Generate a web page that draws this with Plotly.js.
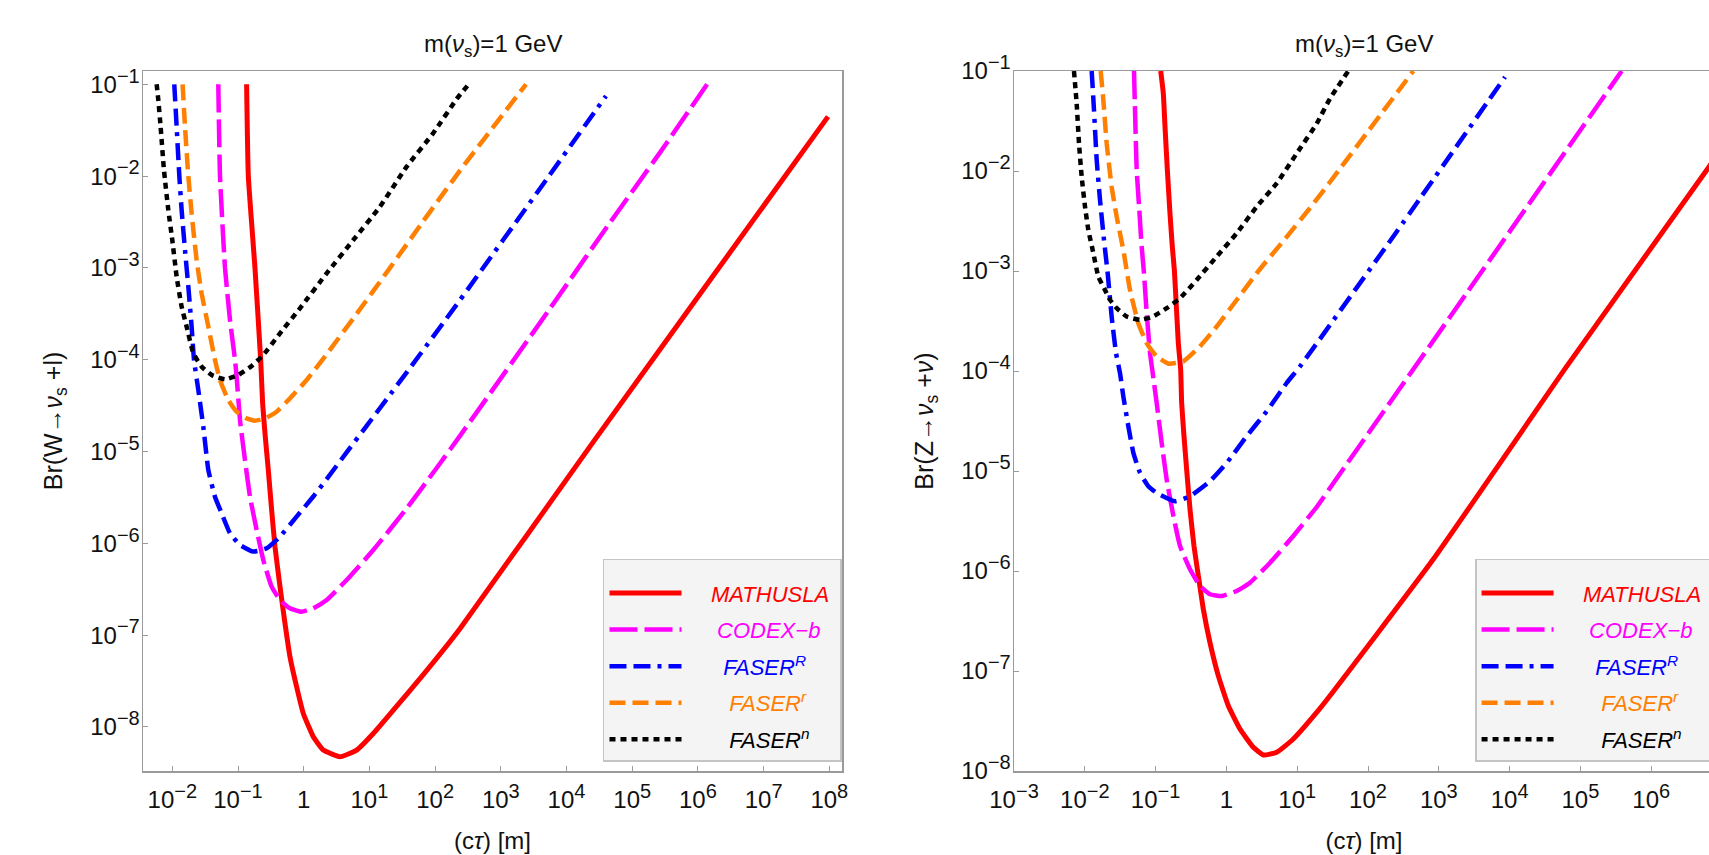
<!DOCTYPE html>
<html>
<head>
<meta charset="utf-8">
<script src="https://cdn.plot.ly/plotly-3.0.1.min.js"></script>
<style>
  html, body { margin: 0; padding: 0; overflow: hidden; background: #fff; }
  #wrap { width: 1709px; height: 855px; overflow: hidden; }
  #plot { width: 1716px; height: 855px; }
</style>
</head>
<body>
<div id="wrap"><div id="plot"></div></div>
<script>
// ---------------- DATA (stored as log10 of the value) ----------------
// Left panel: Br(W -> nu_s + l) vs c*tau [m]
const W_MATHUSLA_x = [-0.869, -0.843, -0.742, -0.655, -0.625, -0.585, -0.539, -0.488, -0.437, -0.361, -0.285, -0.209, -0.108, -0.006, 0.146, 0.298, 0.552, 0.806, 1.059, 1.364, 1.820, 2.378, 4.402, 6.243, 7.980];
const W_MATHUSLA_y = [-1.000, -2.000, -3.000, -4.000, -4.475, -4.838, -5.200, -5.637, -6.037, -6.472, -6.872, -7.235, -7.562, -7.853, -8.107, -8.252, -8.325, -8.252, -8.071, -7.817, -7.430, -6.930, -4.900, -3.075, -1.352];

const W_CODEXB_x = [-1.300, -1.274, -1.198, -1.122, -1.046, -1.021, -0.970, -0.894, -0.818, -0.716, -0.615, -0.488, -0.361, -0.209, -0.031, 0.146, 0.349, 0.653, 1.059, 1.567, 2.074, 2.378, 3.732, 4.569, 5.406, 6.140];
const W_CODEXB_y = [-1.000, -2.000, -3.000, -3.567, -4.000, -4.185, -4.657, -5.093, -5.492, -5.855, -6.182, -6.472, -6.618, -6.708, -6.745, -6.708, -6.618, -6.400, -6.073, -5.620, -5.130, -4.830, -3.460, -2.600, -1.760, -1.000];

const W_FASERR_x = [-1.970, -1.934, -1.893, -1.858, -1.807, -1.756, -1.706, -1.670, -1.604, -1.528, -1.452, -1.351, -1.249, -1.122, -0.970, -0.767, -0.564, -0.361, -0.108, 0.146, 0.349, 0.653, 0.958, 1.262, 1.617, 2.328, 3.732, 4.601];
const W_FASERR_y = [-1.000, -1.461, -2.000, -2.369, -2.805, -3.204, -3.640, -4.000, -4.330, -4.730, -5.200, -5.492, -5.673, -5.891, -6.018, -6.090, -6.054, -5.927, -5.709, -5.490, -5.300, -5.010, -4.720, -4.430, -4.090, -3.400, -2.000, -1.127];

const W_FASERr_x = [-1.843, -1.807, -1.756, -1.706, -1.630, -1.554, -1.452, -1.351, -1.274, -1.148, -1.021, -0.869, -0.742, -0.589, -0.412, -0.209, 0.045, 0.349, 0.806, 1.313, 1.820, 2.378, 3.384];
const W_FASERr_y = [-1.000, -1.461, -2.000, -2.405, -2.914, -3.277, -3.640, -4.000, -4.221, -4.440, -4.566, -4.639, -4.664, -4.639, -4.566, -4.421, -4.221, -3.940, -3.500, -3.000, -2.490, -1.940, -1.000];

const W_FASERn_x = [-2.238, -2.213, -2.178, -2.127, -2.061, -2.000, -1.934, -1.858, -1.782, -1.680, -1.553, -1.401, -1.198, -0.995, -0.792, -0.615, -0.361, -0.057, 0.349, 0.755, 1.161, 1.567, 1.973, 2.328, 2.511];
const W_FASERn_y = [-1.000, -1.170, -1.461, -1.933, -2.369, -2.696, -3.095, -3.422, -3.640, -3.930, -4.076, -4.166, -4.214, -4.166, -4.068, -3.948, -3.712, -3.440, -3.059, -2.696, -2.333, -1.897, -1.530, -1.160, -1.000];

// Right panel: Br(Z -> nu_s + nu) vs c*tau [m]
const Z_MATHUSLA_x = [-0.928, -0.891, -0.867, -0.834, -0.797, -0.764, -0.735, -0.712, -0.679, -0.646, -0.632, -0.599, -0.561, -0.514, -0.458, -0.396, -0.326, -0.232, -0.114, 0.027, 0.192, 0.380, 0.522, 0.710, 0.945, 1.275, 1.463, 2.922, 4.806, 6.850];
const Z_MATHUSLA_y = [-1.000, -1.226, -1.559, -1.991, -2.424, -2.757, -2.993, -3.289, -3.721, -3.987, -4.320, -4.652, -4.990, -5.384, -5.750, -6.050, -6.383, -6.716, -7.049, -7.347, -7.580, -7.763, -7.840, -7.813, -7.680, -7.414, -7.247, -5.883, -3.954, -1.925];

const Z_CODEXB_x = [-1.305, -1.291, -1.267, -1.230, -1.197, -1.164, -1.126, -1.079, -1.041, -0.985, -0.914, -0.844, -0.749, -0.655, -0.514, -0.373, -0.232, -0.067, 0.145, 0.333, 0.616, 0.945, 1.275, 1.463, 3.393, 5.583];
const Z_CODEXB_y = [-1.000, -1.393, -1.991, -2.391, -2.757, -3.023, -3.422, -3.821, -4.021, -4.320, -4.720, -5.085, -5.450, -5.750, -5.983, -6.150, -6.233, -6.250, -6.200, -6.117, -5.917, -5.650, -5.360, -5.170, -3.222, -1.000];

const Z_FASERR_x = [-1.903, -1.870, -1.832, -1.785, -1.729, -1.677, -1.621, -1.559, -1.503, -1.456, -1.385, -1.314, -1.220, -1.103, -0.985, -0.726, -0.514, -0.232, 0.004, 0.286, 0.569, 0.851, 1.040, 2.405, 3.935];
const Z_FASERR_y = [-1.000, -1.393, -1.892, -2.291, -2.690, -3.023, -3.455, -3.821, -4.021, -4.254, -4.553, -4.819, -5.019, -5.152, -5.219, -5.302, -5.252, -5.102, -4.919, -4.652, -4.403, -4.120, -3.954, -2.607, -1.060];

const Z_FASERr_x = [-1.776, -1.738, -1.691, -1.621, -1.550, -1.456, -1.362, -1.244, -1.126, -0.985, -0.820, -0.608, -0.373, -0.137, 0.145, 0.475, 0.804, 1.181, 1.463, 2.640];
const Z_FASERr_y = [-1.000, -1.293, -1.725, -2.158, -2.457, -2.790, -3.189, -3.522, -3.721, -3.854, -3.927, -3.904, -3.754, -3.555, -3.290, -2.980, -2.700, -2.370, -2.110, -1.000];

const Z_FASERn_x = [-2.153, -2.115, -2.082, -2.044, -1.997, -1.950, -1.879, -1.809, -1.715, -1.644, -1.550, -1.409, -1.220, -1.056, -0.844, -0.655, -0.420, -0.137, 0.145, 0.428, 0.710, 0.992, 1.275, 1.463, 1.722];
const Z_FASERn_y = [-1.000, -1.326, -1.725, -2.058, -2.357, -2.590, -2.823, -3.056, -3.189, -3.289, -3.372, -3.455, -3.488, -3.462, -3.372, -3.272, -3.089, -2.856, -2.623, -2.357, -2.124, -1.825, -1.526, -1.276, -1.000];

// Series names (legend labels)
const seriesNames = ['MATHUSLA', 'CODEX\u2212b', 'FASER<sup>R</sup>', 'FASER<sup>r</sup>', 'FASER<sup>n</sup>'];

// Tick labels
const xTickValsW = [1e-2, 1e-1, 1, 1e1, 1e2, 1e3, 1e4, 1e5, 1e6, 1e7, 1e8];
const xTickExpW  = ['\u22122', '\u22121', '', '1', '2', '3', '4', '5', '6', '7', '8'];
const xTickValsZ = [1e-3, 1e-2, 1e-1, 1, 1e1, 1e2, 1e3, 1e4, 1e5, 1e6, 1e7];
const xTickExpZ  = ['\u22123', '\u22122', '\u22121', '', '1', '2', '3', '4', '5', '6', '7'];
const yTickVals  = [1e-8, 1e-7, 1e-6, 1e-5, 1e-4, 1e-3, 1e-2, 1e-1];
const yTickExp   = ['\u22128', '\u22127', '\u22126', '\u22125', '\u22124', '\u22123', '\u22122', '\u22121'];

// ---------------- STYLE ----------------
const colors = ['#ff0000', '#ff00ff', '#0000ff', '#ff7f00', '#000000'];
const dashes = ['solid', '28px,7px', '17px,7px,17px,7px,4px,7px', '16px,7px', '6px,5px'];
const widths = [5, 4.5, 4.5, 4.5, 4.5];
const legendLead = [4, 5, 6, 7, 7];   // left padding of legend labels (non-breaking spaces)
const FONT = 'Liberation Sans, Arial, Helvetica, sans-serif';
const TICK_SIZE = 24, SUP_SIZE = 20;

const toVal = arr => arr.map(v => Math.pow(10, v));
const tickLabel = e => e === '' ? '1' : '10<sup><span style="font-size:' + SUP_SIZE + 'px">' + e + '</span></sup>';

const leftData = [[W_MATHUSLA_x, W_MATHUSLA_y], [W_CODEXB_x, W_CODEXB_y], [W_FASERR_x, W_FASERR_y], [W_FASERr_x, W_FASERr_y], [W_FASERn_x, W_FASERn_y]];
const rightData = [[Z_MATHUSLA_x, Z_MATHUSLA_y], [Z_CODEXB_x, Z_CODEXB_y], [Z_FASERR_x, Z_FASERR_y], [Z_FASERr_x, Z_FASERr_y], [Z_FASERn_x, Z_FASERn_y]];

function makeTraces(data, xa, ya, legendId, grp) {
  return data.map((d, i) => ({
    type: 'scatter', mode: 'lines',
    x: toVal(d[0]), y: toVal(d[1]),
    xaxis: xa, yaxis: ya,
    name: '\u00a0'.repeat(legendLead[i]) + '<span style="color:' + colors[i] + '"><i>' + seriesNames[i] + '</i></span>\u00a0',
    legend: legendId,
    legendgroup: grp + i,
    line: { color: colors[i], width: widths[i], dash: dashes[i], shape: 'spline', smoothing: 0.4 },
    hoverinfo: 'skip'
  }));
}

const traces = makeTraces(leftData, 'x', 'y', 'legend', 'W').concat(makeTraces(rightData, 'x2', 'y2', 'legend2', 'Z'));

const axisCommon = {
  type: 'log', showline: true, mirror: true, linecolor: '#9a9a9a', linewidth: 1.5,
  showgrid: false, zeroline: false, ticks: 'inside', ticklen: 5, tickwidth: 1, tickcolor: '#9a9a9a',
  tickfont: { family: FONT, size: TICK_SIZE, color: '#111' }, tickmode: 'array'
};

const legendCommon = {
  xanchor: 'left', yanchor: 'top', bgcolor: '#f4f4f4', bordercolor: '#c4c4c4', borderwidth: 1.5,
  font: { family: FONT, size: 22, color: '#000' }, itemwidth: 72, tracegroupgap: 5, traceorder: 'grouped',
  title: { text: '\u00a0', font: { family: FONT, size: 9 } }
};

const titleText = 'm(<i>\u03bd</i><sub>s</sub>)=1 GeV';
const AX_TITLE_SIZE = 25;

const layout = {
  width: 1716, height: 855,
  margin: { l: 143, r: 2, t: 71, b: 84, autoexpand: false },
  paper_bgcolor: '#ffffff', plot_bgcolor: '#ffffff',
  showlegend: true,
  xaxis: Object.assign({}, axisCommon, {
    domain: [0, 0.44494], range: [-2.446, 8.193], anchor: 'y',
    tickvals: xTickValsW, ticktext: xTickExpW.map(tickLabel), ticklabelstandoff: 7,
    title: { text: '(c<i>\u03c4</i>) [m]', font: { family: FONT, size: 24, color: '#111' }, standoff: 20 }
  }),
  yaxis: Object.assign({}, axisCommon, {
    domain: [0, 1], range: [-8.48, -0.855], anchor: 'x',
    tickvals: yTickVals, ticktext: yTickExp.map(tickLabel), ticklabelstandoff: -3,
    title: { text: 'Br(W\u2192<i>\u03bd</i><sub>s</sub> +l)', font: { family: FONT, size: AX_TITLE_SIZE, color: '#111' }, standoff: 20 }
  }),
  xaxis2: Object.assign({}, axisCommon, {
    domain: [0.55443, 1], range: [-3, 6.887], anchor: 'y2',
    tickvals: xTickValsZ, ticktext: xTickExpZ.map(tickLabel), ticklabelstandoff: 7,
    title: { text: '(c<i>\u03c4</i>) [m]', font: { family: FONT, size: 24, color: '#111' }, standoff: 20 }
  }),
  yaxis2: Object.assign({}, axisCommon, {
    domain: [0, 1], range: [-8, -1], anchor: 'x2',
    tickvals: yTickVals, ticktext: yTickExp.map(tickLabel), ticklabelstandoff: -3,
    title: { text: 'Br(Z\u2192<i>\u03bd</i><sub>s</sub> +<i>\u03bd</i>)', font: { family: FONT, size: AX_TITLE_SIZE, color: '#111' }, standoff: 20 }
  }),
  legend: Object.assign({}, legendCommon, { x: 0.2928, y: 0.3029 }),
  legend2: Object.assign({}, legendCommon, { x: 0.8479, y: 0.3029 }),
  annotations: [
    { text: titleText, xref: 'x domain', yref: 'y domain', x: 0.5, y: 1, xanchor: 'center', yanchor: 'bottom', yshift: 8, showarrow: false, font: { family: FONT, size: 24, color: '#111' } },
    { text: titleText, xref: 'x2 domain', yref: 'y2 domain', x: 0.5, y: 1, xanchor: 'center', yanchor: 'bottom', yshift: 8, showarrow: false, font: { family: FONT, size: 24, color: '#111' } }
  ]
};

Plotly.newPlot('plot', traces, layout, { displayModeBar: false, staticPlot: true });
</script>
</body>
</html>
